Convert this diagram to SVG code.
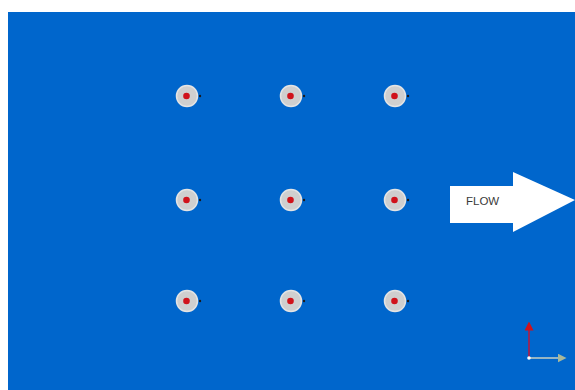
<svg xmlns="http://www.w3.org/2000/svg" width="575" height="390" viewBox="0 0 575 390">
<style>
.ring{fill:#cfcfcf;stroke:#e4e4e4;stroke-width:1.5}
.core{fill:#d0121b}
.tip{fill:#1a1a1a}
</style>
<defs>
<g id="cyl">
<circle class="ring" r="10.5"/>
<circle class="core" cx="-0.5" r="3.3"/>
<circle class="tip" cx="13" r="1.2"/>
</g>
<marker id="ah-r" markerWidth="6" markerHeight="6" refX="3" refY="3" orient="auto"><path d="M0,0 L6,3 L0,6 Z" fill="#d0121b"/></marker>
<marker id="ah-g" markerWidth="6" markerHeight="6" refX="3" refY="3" orient="auto"><path d="M0,0 L6,3 L0,6 Z" fill="#a8b89a"/></marker>
</defs>
<rect x="0" y="0" width="575" height="390" fill="#ffffff"/>
<rect x="8" y="12" width="567" height="378" fill="#0066cc"/>
<g id="n1"><use href="#cyl" x="187" y="96"/></g>
<g id="n2"><use href="#cyl" x="291" y="96"/></g>
<g id="n3"><use href="#cyl" x="395" y="96"/></g>
<g id="n4"><use href="#cyl" x="187" y="200"/></g>
<g id="n5"><use href="#cyl" x="291" y="200"/></g>
<g id="n6"><use href="#cyl" x="395" y="200"/></g>
<g id="n7"><use href="#cyl" x="187" y="301"/></g>
<g id="n8"><use href="#cyl" x="291" y="301"/></g>
<g id="n9"><use href="#cyl" x="395" y="301"/></g>
<g id="flow">
<polygon points="450,186 513,186 513,172 575,200 513,232 513,223 450,223" fill="#ffffff"/>
<text x="466" y="205" font-family="Liberation Sans, Arial, sans-serif" font-size="11.5" fill="#3a3a3a">FLOW</text>
</g>
<g id="connectors">
<line x1="529" y1="358" x2="529" y2="326" stroke="#c0163a" stroke-width="1.5" marker-end="url(#ah-r)"/>
<line x1="529" y1="358" x2="562" y2="358" stroke="#c8d0c0" stroke-width="1.5" marker-end="url(#ah-g)"/>
<circle cx="529" cy="358" r="1.8" fill="#ffffff"/>
</g>
</svg>
